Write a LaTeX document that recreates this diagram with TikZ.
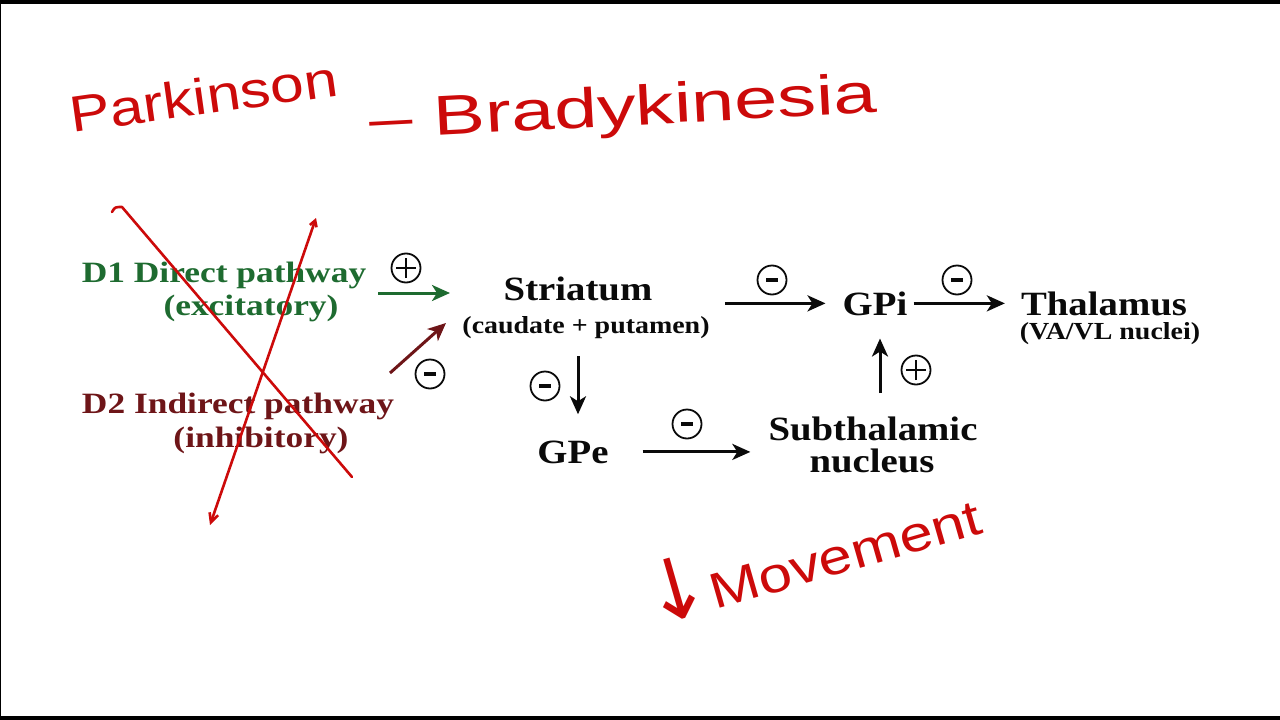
\documentclass[tikz,border=0pt]{standalone}
\usepackage{fontspec}
\usepackage{graphicx}
\newfontfamily\diag{Liberation Serif}[FakeStretch=1.14]
\newfontfamily\diagw{Liberation Serif}[FakeStretch=1.2]
\newfontfamily\handfont{Liberation Sans}
\newfontfamily\arrowfont{DejaVu Sans}
\usetikzlibrary{arrows.meta}
\definecolor{pgreen}{HTML}{1E6B30}
\definecolor{pmaroon}{HTML}{6E1518}
\definecolor{ink}{HTML}{CC0A0A}
\definecolor{txt}{HTML}{0A0A0A}
\begin{document}
\begin{tikzpicture}[x=1pt,y=-1pt,
  main/.style={font=\diag\bfseries\fontsize{34}{36}\selectfont, text=txt, inner sep=0pt, anchor=base},
  sub/.style={font=\diag\bfseries\fontsize{24.5}{26}\selectfont, text=txt, inner sep=0pt, anchor=base},
  pathlbl/.style={font=\diagw\bfseries\fontsize{29.5}{31}\selectfont, inner sep=0pt, anchor=base},
  arr/.style={line width=3pt, draw=txt, -{Stealth[length=18pt,width=16pt,inset=5pt]}},
  sign/.style={circle, draw=txt, line width=1.8pt, minimum size=29pt, inner sep=0pt},
  minus/.style={sign, path picture={\fill[txt] ([xshift=-6pt,yshift=-2.2pt]path picture bounding box.center) rectangle ([xshift=6pt,yshift=2.2pt]path picture bounding box.center);}},
  plus/.style={sign, path picture={\draw[txt, line width=1.7pt] ([xshift=-10pt]path picture bounding box.center) -- ([xshift=10pt]path picture bounding box.center) ([yshift=-10pt]path picture bounding box.center) -- ([yshift=10pt]path picture bounding box.center);}},
  pen/.style={draw=ink, line width=2.6pt, line cap=round, line join=round},
  hand/.style={text=ink, inner sep=0pt, font=\handfont}
]
\useasboundingbox (0,0) rectangle (1280,720);
\fill[white] (0,0) rectangle (1280,720);
% frame
\fill[black] (0,0) rectangle (1280,4);
\fill[black] (0,716) rectangle (1280,720);
\fill[black] (0,0) rectangle (1.3,720);

% diagram nodes
\node[main] (striatum) at (578,300) {Striatum};
\node[sub] (striatumsub) at (586,333) {(caudate + putamen)};
\node[main] (gpi) at (875,315) {GPi};
\node[main] (thal) at (1104,315) {Thalamus};
\node[sub] (thalsub) at (1110,339) {(VA/VL nuclei)};
\node[main] (gpe) at (573,463) {GPe};
\node[main] (stn) at (873,440) {Subthalamic};
\node[main] (stnsub) at (872,472) {nucleus};
\node[pathlbl, text=pgreen] (d1) at (224,282) {D1 Direct pathway};
\node[pathlbl, text=pgreen] (d1sub) at (251,315) {(excitatory)};
\node[pathlbl, text=pmaroon] (d2) at (238,413) {D2 Indirect pathway};
\node[pathlbl, text=pmaroon] (d2sub) at (261,447) {(inhibitory)};

% helper coordinates
\coordinate (vx) at (578,0);
\coordinate (vx2) at (880,0);
\coordinate (d1out) at (378,293);
\coordinate (d1in) at (450,293);
\coordinate (d2out) at (390,373);
\coordinate (d2in) at (446,323);

% connectors
\draw[arr, shorten <=15pt, shorten >=17pt] (striatumsub.east |- gpi.center) -- (gpi.west |- gpi.center);
\draw[arr, shorten <=6pt, shorten >=16pt] (gpi.east |- gpi.center) -- (thal.west |- gpi.center);
\draw[arr, shorten <=18pt, shorten >=26pt] (striatumsub.south -| vx) -- (gpe.north -| vx);
\draw[arr, shorten <=34pt, shorten >=18pt] (gpe.east) -- (gpe.east -| stn.west);
\draw[arr, shorten <=23pt, shorten >=23pt] (stn.north -| vx2) -- (gpi.south -| vx2);
\draw[arr, draw=pgreen] (d1out) -- (d1in);
\draw[arr, draw=pmaroon] (d2out) -- (d2in);

% signs
\node[minus] (s1) at (772,280) {};
\node[minus] (s2) at (957,280) {};
\node[minus] (s3) at (545,386) {};
\node[minus] (s4) at (687,424) {};
\node[plus] (s5) at (916,370) {};
\node[plus] (s6) at (406,268) {};
\node[minus] (s7) at (430,374) {};

% red annotations
\node[hand, rotate=8, anchor=base west, font=\handfont\fontsize{44}{46}\selectfont] (parkinson) at (72,133) {\scalebox{1.38}[1.15]{Parkinson}};
\node[hand, rotate=3, anchor=base west, font=\handfont\fontsize{50}{52}\selectfont] (brady) at (370,139) {\scalebox{1.55}[1.12]{– Bradykinesia}};
\node[hand, rotate=16, anchor=base west, font=\handfont\fontsize{50}{52}\selectfont] (movement) at (652,628) {\scalebox{1.2}[1]{{\arrowfont\scalebox{1.3}[1.7]{↓}}Movement}};

\coordinate (c1a) at (112,212);
\coordinate (c1b) at (122,207);
\coordinate (c1c) at (352,477);
\coordinate (c2a) at (316,218);
\coordinate (c2b) at (210,525);
\draw[pen] (c1a) .. controls (115,207) .. (c1b) -- (c1c);
\draw[pen, {Straight Barb[length=6pt,width=7pt]}-{Straight Barb[length=9pt,width=9pt]}] (c2a) -- (c2b);
\end{tikzpicture}
\end{document}
